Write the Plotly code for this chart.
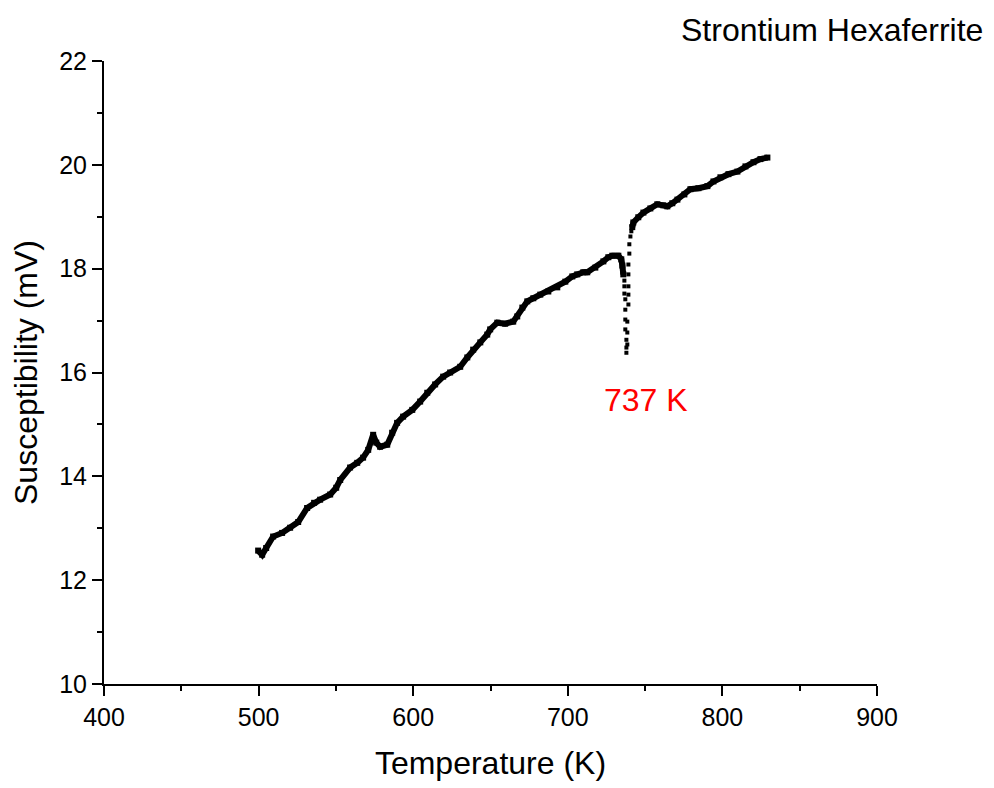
import plotly.graph_objects as go

# Continuous part before the transition (K, mV)
temp_low = [499.7, 502.3, 504.9, 509.4, 515.2, 520.4, 525.6, 531.4, 535.9, 539.8,
            546.3, 550.2, 552.8, 559.2, 563.8, 567.6, 570.9, 574.1, 576.1, 578.6,
            583.2, 586.4, 589.6, 593.5, 599.4, 604.5, 609.1, 614.2, 619.4, 623.9,
            630.4, 635.0, 638.8, 643.4, 647.9, 649.8, 654.4, 659.5, 664.7, 667.3,
            670.6, 673.8, 677.7, 682.2, 687.4, 693.2, 698.4, 702.9, 706.1, 710.0,
            712.6, 717.8, 723.0, 726.2, 728.8, 732.7, 734.6, 735.3, 735.9]
susc_low = [12.57, 12.49, 12.62, 12.84, 12.91, 13.01, 13.12, 13.39, 13.49, 13.55,
            13.65, 13.78, 13.93, 14.17, 14.26, 14.36, 14.51, 14.80, 14.65, 14.57,
            14.61, 14.84, 15.03, 15.15, 15.28, 15.44, 15.61, 15.77, 15.92, 16.00,
            16.11, 16.29, 16.44, 16.58, 16.73, 16.83, 16.96, 16.94, 16.98, 17.08,
            17.25, 17.37, 17.43, 17.50, 17.56, 17.64, 17.75, 17.85, 17.89, 17.93,
            17.93, 18.02, 18.14, 18.22, 18.25, 18.25, 18.18, 18.06, 17.89]

# Sparse points through the dip
temp_dip = [736.6, 736.6, 736.6, 737.2, 737.2, 737.2, 737.2, 737.9, 737.9, 737.9,
            738.5, 738.5, 738.5, 739.2, 739.2, 739.2, 739.2, 739.2, 739.8, 739.8, 740.5, 741.1]
susc_dip = [17.77, 17.66, 17.52, 17.41, 17.21, 17.02, 16.83, 16.63, 16.48, 16.38,
            16.54, 16.77, 16.98, 17.31, 17.50, 17.66, 17.89, 18.08, 18.29, 18.47, 18.62, 18.72]

# Continuous part after the transition
temp_high = [741.7, 742.4, 745.6, 748.9, 753.4, 757.9, 761.8, 764.4, 767.6, 770.9,
             775.4, 779.3, 784.5, 790.3, 794.2, 798.7, 803.9, 809.7, 814.9, 820.1,
             824.6, 829.1]
susc_high = [18.80, 18.89, 18.99, 19.08, 19.16, 19.24, 19.22, 19.20, 19.26, 19.33,
             19.43, 19.53, 19.55, 19.59, 19.68, 19.76, 19.82, 19.87, 19.97, 20.05,
             20.11, 20.14]

x_ticks = [400, 500, 600, 700, 800, 900]
y_ticks = [10, 12, 14, 16, 18, 20, 22]

FONT = "Liberation Sans, Arial, sans-serif"

fig = go.Figure()
fig.add_trace(go.Scatter(x=temp_low, y=susc_low, mode="lines+markers",
                         line=dict(color="black", width=6),
                         marker=dict(symbol="square", size=6, color="black"),
                         showlegend=False))
fig.add_trace(go.Scatter(x=temp_dip, y=susc_dip, mode="markers",
                         marker=dict(symbol="square", size=4, color="black"),
                         showlegend=False))
fig.add_trace(go.Scatter(x=temp_high, y=susc_high, mode="lines+markers",
                         line=dict(color="black", width=6),
                         marker=dict(symbol="square", size=6, color="black"),
                         showlegend=False))

axis_common = dict(showline=True, linecolor="black", linewidth=2, mirror=False,
                   showgrid=False, zeroline=False, ticks="outside", ticklen=10,
                   tickwidth=2, tickcolor="black",
                   tickfont=dict(family=FONT, size=25, color="black"))

fig.update_xaxes(range=[400, 900], tickvals=x_ticks,
                 minor=dict(ticks="outside", ticklen=5, tickwidth=2, tickcolor="black", dtick=50, showgrid=False),
                 title=dict(text="Temperature (K)", font=dict(family=FONT, size=32, color="black"), standoff=22),
                 **axis_common)
fig.update_yaxes(range=[10, 22], tickvals=y_ticks,
                 minor=dict(ticks="outside", ticklen=5, tickwidth=2, tickcolor="black", dtick=1, showgrid=False),
                 title=dict(text="Susceptibility (mV)", font=dict(family=FONT, size=32, color="black"), standoff=12),
                 **axis_common)

fig.add_annotation(x=750.5, y=15.48, xref="x", yref="y", text="737 K", showarrow=False,
                   font=dict(family=FONT, size=32, color="red"))
fig.add_annotation(x=985, y=30, xref="paper", yref="paper", text="Strontium Hexaferrite",
                   showarrow=False, xanchor="right", yanchor="middle",
                   font=dict(family=FONT, size=32, color="black"))

fig.update_layout(width=994, height=788, plot_bgcolor="white", paper_bgcolor="white",
                  margin=dict(l=104, r=117, t=61, b=104, autoexpand=False),
                  showlegend=False)

# Title position in pixel terms -> convert to paper coordinates
plot_w = 994 - 104 - 117
plot_h = 788 - 61 - 104
fig.layout.annotations[1].x = (985 - 104) / plot_w
fig.layout.annotations[1].y = (788 - 104 - 30) / plot_h

fig.write_html("out.html")
